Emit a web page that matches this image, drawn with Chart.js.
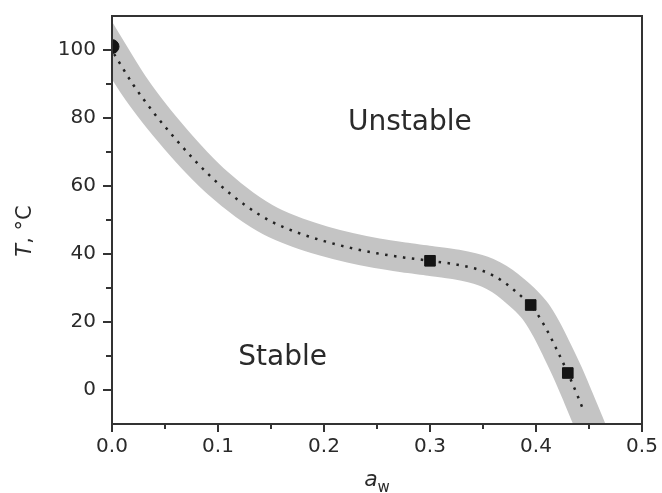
<!DOCTYPE html>
<html>
<head>
<meta charset="utf-8">
<script src="https://cdn.jsdelivr.net/npm/chart.js@4/dist/chart.umd.min.js"></script>
<style>
  body { margin: 0; background: #fff; }
  canvas { display: block; }
</style>
</head>
<body>
<canvas id="chart" width="662" height="493"></canvas>
<script>
// boundary curve (a_w, T in degC)
const curveX = [0.002, 0.02, 0.04, 0.06, 0.08, 0.10, 0.125, 0.15, 0.175, 0.20, 0.225, 0.25, 0.275, 0.30, 0.325, 0.35, 0.36, 0.37, 0.38, 0.39, 0.40, 0.41, 0.42, 0.43, 0.44, 0.445];
const curveT = [98.8, 89.8, 81.3, 73.8, 66.9, 60.8, 54.5, 49.6, 46.3, 43.8, 41.8, 40.2, 39.0, 38.0, 36.9, 35.0, 33.6, 31.7, 29.2, 26.4, 22.9, 17.8, 11.6, 5.0, -2.3, -6.2];

// shaded band follows the same curve, running past the axes
const bandX = [-0.012, 0.002, 0.02, 0.04, 0.06, 0.08, 0.10, 0.125, 0.15, 0.175, 0.20, 0.225, 0.25, 0.275, 0.30, 0.325, 0.35, 0.36, 0.37, 0.38, 0.39, 0.40, 0.41, 0.42, 0.43, 0.44, 0.45, 0.46];
const bandT = [106.0, 98.8, 89.8, 81.3, 73.8, 66.9, 60.8, 54.5, 49.6, 46.3, 43.8, 41.8, 40.2, 39.0, 38.0, 36.9, 35.0, 33.6, 31.7, 29.2, 26.4, 22.9, 17.8, 11.6, 5.0, -2.3, -9.8, -17.5];

// measured points
const circleX = [0.0];
const circleT = [101];
const squareX = [0.30, 0.395, 0.43];
const squareT = [38, 25, 5];

const xTicksMajor = [0, 0.1, 0.2, 0.3, 0.4, 0.5];
const yTicksMajor = [0, 20, 40, 60, 80, 100];

const zip = (xs, ys) => xs.map((x, i) => ({ x: x, y: ys[i] }));

const axisColor = '#333';
const textColor = '#2a2a2a';
const fontFam = '"DejaVu Sans", Arial, sans-serif';

const decorations = {
    id: 'decorations',
    afterDraw(chart) {
        const ctx = chart.ctx;
        const a = chart.chartArea;
        const xs = chart.scales.x, ys = chart.scales.y;
        ctx.save();
        // frame
        ctx.strokeStyle = axisColor;
        ctx.lineWidth = 2;
        ctx.strokeRect(a.left, a.top, a.right - a.left, a.bottom - a.top);
        // tick marks, outward on left and bottom
        ctx.beginPath();
        xs.ticks.forEach(t => {
            const px = xs.getPixelForValue(t.value);
            const major = Math.round(t.value * 100) % 10 === 0;
            ctx.moveTo(px, a.bottom);
            ctx.lineTo(px, a.bottom + (major ? 8 : 5));
        });
        ys.ticks.forEach(t => {
            if (t.value <= ys.min || t.value >= ys.max) return;
            const py = ys.getPixelForValue(t.value);
            const major = t.value % 20 === 0;
            ctx.moveTo(a.left, py);
            ctx.lineTo(a.left - (major ? 9 : 6), py);
        });
        ctx.stroke();

        // region labels
        ctx.fillStyle = textColor;
        ctx.font = '28px ' + fontFam;
        ctx.textAlign = 'center';
        ctx.textBaseline = 'middle';
        ctx.fillText('Unstable', xs.getPixelForValue(0.281), ys.getPixelForValue(78.5));
        ctx.fillText('Stable', xs.getPixelForValue(0.161), ys.getPixelForValue(9.5));

        // x axis title: a_w
        ctx.textAlign = 'left';
        ctx.textBaseline = 'alphabetic';
        ctx.font = 'italic 22px ' + fontFam;
        const aw = ctx.measureText('a').width;
        ctx.font = '15px ' + fontFam;
        const ww = ctx.measureText('w').width;
        const x0 = (a.left + a.right) / 2 - (aw + ww) / 2;
        ctx.font = 'italic 22px ' + fontFam;
        ctx.fillText('a', x0, 486);
        ctx.font = '15px ' + fontFam;
        ctx.fillText('w', x0 + aw, 492);

        // y axis title: T, °C
        ctx.translate(31, 231);
        ctx.rotate(-Math.PI / 2);
        ctx.font = 'italic 21px ' + fontFam;
        const tw = ctx.measureText('T').width;
        ctx.font = '21px ' + fontFam;
        const rest = ', \u00B0C';
        const rw = ctx.measureText(rest).width;
        const start = -(tw + rw) / 2;
        ctx.font = 'italic 21px ' + fontFam;
        ctx.fillText('T', start, 0);
        ctx.font = '21px ' + fontFam;
        ctx.fillText(rest, start + tw, 0);
        ctx.restore();
    }
};

new Chart(document.getElementById('chart').getContext('2d'), {
    type: 'scatter',
    data: {
        datasets: [
            {
                data: zip(bandX, bandT),
                showLine: true,
                borderColor: '#c4c4c4',
                borderWidth: 30,
                borderCapStyle: 'butt',
                borderJoinStyle: 'round',
                cubicInterpolationMode: 'monotone',
                pointRadius: 0,
                order: 3
            },
            {
                data: zip(curveX, curveT),
                showLine: true,
                borderColor: '#222',
                borderWidth: 2.5,
                borderDash: [2.5, 6.5],
                cubicInterpolationMode: 'monotone',
                pointRadius: 0,
                order: 2
            },
            {
                data: zip(circleX, circleT),
                pointStyle: 'circle',
                pointRadius: 7,
                backgroundColor: '#141414',
                borderColor: '#141414',
                order: 1
            },
            {
                data: zip(squareX, squareT),
                pointStyle: 'rect',
                pointRadius: 7.5,
                backgroundColor: '#141414',
                borderColor: '#141414',
                order: 1
            }
        ]
    },
    options: {
        responsive: false,
        animation: false,
        layout: { padding: { top: 16, right: 20, left: 0, bottom: 0 } },
        plugins: {
            legend: { display: false },
            tooltip: { enabled: false }
        },
        scales: {
            x: {
                type: 'linear',
                min: 0,
                max: 0.5,
                afterFit: s => { s.height = 69; s.paddingLeft = 0; s.paddingRight = 0; },
                border: { display: false },
                grid: { display: false, drawTicks: false },
                ticks: {
                    stepSize: 0.05,
                    padding: 11,
                    color: textColor,
                    font: { family: fontFam, size: 20 },
                    maxRotation: 0,
                    autoSkip: false,
                    callback: v => xTicksMajor.some(m => Math.abs(m - v) < 1e-6) ? v.toFixed(1) : ''
                }
            },
            y: {
                type: 'linear',
                min: -10,
                max: 110,
                afterFit: s => { s.width = 112; s.paddingTop = 0; s.paddingBottom = 0; },
                border: { display: false },
                grid: { display: false, drawTicks: false },
                ticks: {
                    stepSize: 10,
                    padding: 16,
                    color: textColor,
                    font: { family: fontFam, size: 20 },
                    autoSkip: false,
                    callback: v => yTicksMajor.includes(v) ? String(v) : ''
                }
            }
        }
    },
    plugins: [decorations]
});
</script>
</body>
</html>
